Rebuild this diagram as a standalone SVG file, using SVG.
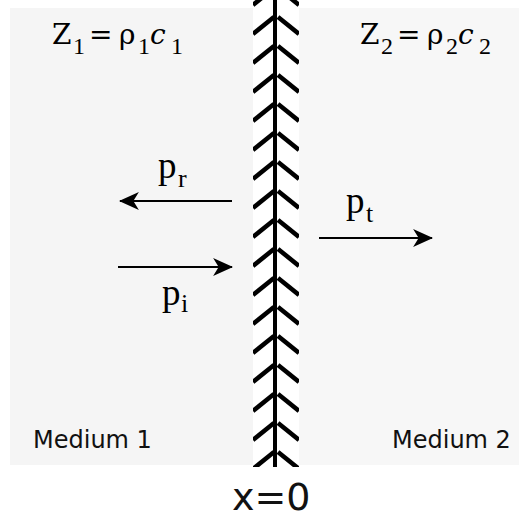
<svg xmlns="http://www.w3.org/2000/svg" width="529" height="520" viewBox="0 0 529 520">
<style>
.m{font-family:"Liberation Serif","DejaVu Serif",serif;fill:#000}
.z{font-family:"DejaVu Serif","Liberation Serif",serif;fill:#000}
.big{font-size:28px}
.sub{font-size:24px;font-family:"Liberation Serif","DejaVu Serif",serif}
.p{font-size:37px}
.ps{font-size:26px}
.lab{font-family:"DejaVu Sans","Verdana",sans-serif;font-size:24px;fill:#111}
.arr{stroke:#000;stroke-width:2;fill:none}
</style>
<defs>
<marker id="ah" markerUnits="userSpaceOnUse" markerWidth="20" markerHeight="20" viewBox="0 -9 18 18" refX="17" refY="0" orient="auto">
<path d="M0,-8 L18,0 L0,8 L5,0 z" fill="#000"/>
</marker>
<pattern id="chev" patternUnits="userSpaceOnUse" x="253" y="-18" width="46" height="29">
<line x1="0" y1="23" x2="21" y2="6" stroke="#000" stroke-width="4.5"/>
<line x1="25" y1="6" x2="46" y2="23" stroke="#000" stroke-width="4.5"/>
</pattern>
</defs>
<g id="medium1">
<rect x="10" y="8" width="243" height="457" fill="#f5f5f5"/>
<text class="lab" x="33" y="448">Medium 1</text>
<text class="z"><tspan class="big" x="52" y="44">Z</tspan><tspan class="sub" x="73" y="54">1</tspan><tspan class="big" x="89" y="44">=</tspan><tspan class="big" x="119" y="44">ρ</tspan><tspan class="sub" x="138" y="54">1</tspan><tspan class="big" x="150" y="44" font-style="italic">c</tspan><tspan class="sub" x="171" y="54">1</tspan></text>
</g>
<g id="medium2">
<rect x="299" y="8" width="220" height="457" fill="#f7f7f7"/>
<text class="lab" x="392" y="448">Medium 2</text>
<text class="z"><tspan class="big" x="360" y="44">Z</tspan><tspan class="sub" x="381" y="54">2</tspan><tspan class="big" x="397" y="44">=</tspan><tspan class="big" x="427" y="44">ρ</tspan><tspan class="sub" x="446" y="54">2</tspan><tspan class="big" x="458" y="44" font-style="italic">c</tspan><tspan class="sub" x="479" y="54">2</tspan></text>
</g>
<g id="wall">
<rect x="253" y="0" width="46" height="467" fill="#fff"/>
<rect x="253" y="0" width="46" height="467" fill="url(#chev)"/>
<rect x="273" y="0" width="4" height="467" fill="#000"/>
</g>
<g id="connectors">
<line class="arr" x1="232" y1="201" x2="120" y2="201" marker-end="url(#ah)"/>
<line class="arr" x1="118" y1="267" x2="232" y2="267" marker-end="url(#ah)"/>
<line class="arr" x1="319" y1="238" x2="432" y2="238" marker-end="url(#ah)"/>
</g>
<g id="labels">
<text class="m"><tspan class="p" x="158" y="178">p</tspan><tspan class="ps" x="178" y="187">r</tspan></text>
<text class="m"><tspan class="p" x="162" y="305">p</tspan><tspan class="ps" x="181" y="312">i</tspan></text>
<text class="m"><tspan class="p" x="346" y="213">p</tspan><tspan class="ps" x="366" y="222">t</tspan></text>
<text class="lab" x="232" y="510" style="font-size:38px">x=0</text>
</g>
</svg>
